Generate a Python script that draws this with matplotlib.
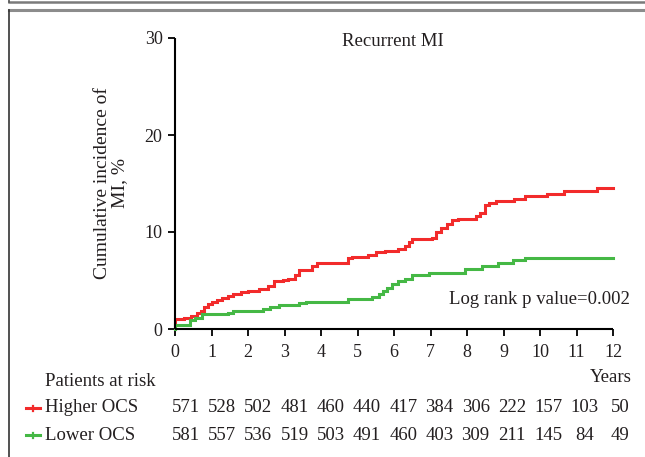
import matplotlib
matplotlib.use("Agg")
import matplotlib.pyplot as plt
from matplotlib.lines import Line2D
from matplotlib.transforms import blended_transform_factory

# ---- data ----
years = [0, 1, 2, 3, 4, 5, 6, 7, 8, 9, 10, 11, 12]
yticks = [0, 10, 20, 30]

higher_t = [0, 0, 0.25, 0.45, 0.6, 0.7, 0.8, 0.9, 1.0, 1.15, 1.3, 1.45, 1.6, 1.8, 2.0,
            2.3, 2.55, 2.7, 2.95, 3.1, 3.3, 3.4, 3.75, 3.9, 4.75, 4.85, 5.3, 5.5,
            5.75, 6.1, 6.3, 6.4, 6.5, 7.05, 7.15, 7.3, 7.45, 7.6, 7.75, 8.25, 8.35,
            8.5, 8.6, 8.8, 9.3, 9.6, 10.2, 10.65, 11.55, 12.0]
higher_v = [0, 1.0, 1.1, 1.3, 1.6, 1.9, 2.3, 2.6, 2.8, 3.0, 3.2, 3.4, 3.6, 3.8, 3.9,
            4.1, 4.4, 4.9, 5.1, 5.2, 5.6, 6.1, 6.5, 6.8, 7.3, 7.4, 7.6, 7.9,
            8.0, 8.2, 8.6, 9.0, 9.3, 9.4, 10.0, 10.4, 10.8, 11.2, 11.3, 11.6, 12.0,
            12.8, 13.0, 13.2, 13.4, 13.7, 13.9, 14.2, 14.5, 14.5]

lower_t = [0, 0, 0.4, 0.55, 0.75, 1.45, 1.6, 2.4, 2.6, 2.85, 3.4, 3.6, 4.75, 5.4,
           5.6, 5.7, 5.8, 5.95, 6.1, 6.3, 6.5, 6.95, 7.95, 8.4, 8.85, 9.25, 9.6, 12.0]
lower_v = [0, 0.4, 0.9, 1.1, 1.5, 1.7, 1.9, 2.1, 2.3, 2.5, 2.7, 2.8, 3.1, 3.3,
           3.6, 3.9, 4.2, 4.6, 4.9, 5.2, 5.6, 5.8, 6.2, 6.5, 6.8, 7.1, 7.35, 7.35]

higher_risk = [571, 528, 502, 481, 460, 440, 417, 384, 306, 222, 157, 103, 50]
lower_risk = [581, 557, 536, 519, 503, 491, 460, 403, 309, 211, 145, 84, 49]

title = "Recurrent MI"
ylabel = "Cumulative incidence of\nMI, %"
pval_text = "Log rank p value=0.002"
group_names = ["Higher OCS", "Lower OCS"]

RED = "#f22b2b"
GREEN = "#45b845"
TXT = "#231f20"

plt.rcParams["font.family"] = ["Liberation Serif", "DejaVu Serif"]

W, H = 645, 457
fig = plt.figure(figsize=(W / 100, H / 100), dpi=100)

def fx(px):
    return px / W

def fy(py):
    return 1 - py / H

# frame lines
fig.add_artist(Line2D([fx(9), 1], [fy(2), fy(2)], color="#7a7a7a", lw=1.8))
fig.add_artist(Line2D([fx(9), fx(9)], [fy(0), fy(2)], color="#555555", lw=1.2))
fig.add_artist(Line2D([fx(9), 1], [fy(10), fy(10)], color="#8c8c8c", lw=2.2))
fig.add_artist(Line2D([fx(9), fx(9)], [fy(10), 0], color="#333333", lw=1.2))

ax = fig.add_axes([fx(175), fy(329), fx(613) - fx(175), fy(38) - fy(329)])
ax.set_xlim(0, 12)
ax.set_ylim(0, 30)
for s in ["top", "right"]:
    ax.spines[s].set_visible(False)
for s in ["left", "bottom"]:
    ax.spines[s].set_linewidth(1.5)
    ax.spines[s].set_color("black")
    ax.spines[s].set_capstyle("butt")

ax.plot(higher_t, higher_v, drawstyle="steps-post", color=RED, lw=2.2, clip_on=False,
        solid_joinstyle="miter")
ax.plot(lower_t, lower_v, drawstyle="steps-post", color=GREEN, lw=2.2, clip_on=False,
        solid_joinstyle="miter")

ax.set_xticks(years)
ax.set_xticklabels([str(y) for y in years])
ax.set_yticks(yticks)
ax.set_yticklabels([str(y) for y in yticks])
ax.tick_params(axis="both", direction="out", length=5, width=1.3, colors="black",
               labelsize=13, labelcolor=TXT)
ax.tick_params(axis="x", pad=6)
ax.tick_params(axis="y", pad=4)

ax.text(fx(393), fy(42), title, transform=fig.transFigure, ha="center", va="center",
        fontsize=13.5, color=TXT)
ax.text(fx(630), fy(300), pval_text, transform=fig.transFigure, ha="right", va="center",
        fontsize=13.5, color=TXT)
fig.text(fx(111), fy(183), ylabel, rotation=90, ha="center", va="center",
         fontsize=14, color=TXT, linespacing=1.0, multialignment="center")

fig.text(fx(632), fy(377), "Years", ha="right", va="center", fontsize=13.5, color=TXT)
fig.text(fx(45), fy(382), "Patients at risk", ha="left", va="center", fontsize=13.5,
         color=TXT)

tr = blended_transform_factory(ax.transData, fig.transFigure)
rows = [(higher_risk, RED, 408), (lower_risk, GREEN, 435)]
for (counts, col, py), name in zip(rows, group_names):
    fig.add_artist(Line2D([fx(26), fx(40)], [fy(py), fy(py)], color=col, lw=2.2))
    fig.add_artist(Line2D([fx(33), fx(33)], [fy(py - 2.5), fy(py + 2.5)], color=col, lw=1.6))
    fig.text(fx(45), fy(py), name, ha="left", va="center", fontsize=13.5, color=TXT)
    for yv, c in zip(years, counts):
        ax.text(yv * 0.992 + 0.3, fy(py), str(c), transform=tr, ha="center", va="center",
                fontsize=13.5, color=TXT, clip_on=False)

fig.savefig("out.png", dpi=100)
